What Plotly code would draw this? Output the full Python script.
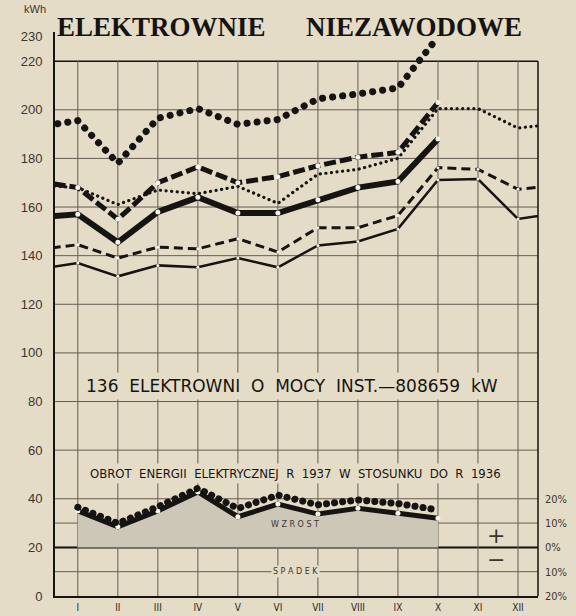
import plotly.graph_objects as go

# ---------------- data ----------------
months = ["I", "II", "III", "IV", "V", "VI", "VII", "VIII", "IX", "X", "XI", "XII"]
# position 0 = XII of the previous year (left edge), 13 = I of the next year (right edge)
periods = list(range(0, len(months) + 2))

# kWh values (first value = previous December)
big_dots = [193, 195.5, 178, 196.5, 200.5, 194, 196, 204.5, 206.5, 209, 230]
heavy_dash = [170.5, 168, 155, 170, 176.5, 170, 172.5, 177, 180.5, 182.5, 203]
small_dots = [169, 168, 161, 167, 165.5, 168.5, 161.5, 173.5, 175.5, 180, 200.5, 200.5, 192.5, 194.3]
thick_solid = [155.8, 157, 145.5, 158, 164, 157.5, 157.5, 163, 168, 170.5, 188]
dashed = [142.5, 144.5, 139, 143.5, 142.8, 147, 141.5, 151.5, 151.5, 156.5, 176.2, 175.5, 167.3, 169]
thin_solid = [134.5, 137, 131.5, 136, 135.2, 139, 135.2, 144.2, 145.8, 151, 171.1, 171.5, 155.1, 157.5]

# change 1937 vs 1936, percent (months I..X)
pct_dots = [16.5, 9.9, 16.7, 24.3, 16, 21.5, 17.5, 19.5, 18, 15.4]
pct_solid = [15, 8.5, 15, 22.8, 12.6, 17.8, 13.7, 16.1, 14, 12]

y_ticks = [0, 20, 40, 60, 80, 100, 120, 140, 160, 180, 200, 220, 230]
grid_main = [20, 40, 60, 80, 100, 120, 140, 160, 180, 200]
grid_low = [10, 30]
pct_ticks = [-20, -10, 0, 10, 20]
pct_labels = ["20%", "10%", "0%", "10%", "20%"]

# ---------------- style ----------------
PAPER = "#e4dcc6"
INK = "#161412"
GRID = "#665c52"
WHITE = "#f5f2e9"
FILL = "#cdc7b8"
Y_TOP = 232
BOX_TOP = 220
X0, X1 = 0.43, 12.5
PCT_OFFSET = 20  # 0 % drawn at 20 kWh

fig = go.Figure()


def add_line(vals, width, dash, markers=False, msize=5, yaxis="y", fill=None, fillcolor=None, xs=None):
    xs = xs if xs is not None else periods[:len(vals)]
    fig.add_trace(go.Scatter(
        x=xs, y=vals, yaxis=yaxis,
        mode="lines+markers" if markers else "lines",
        line=dict(color=INK, width=width, dash=dash),
        marker=dict(color=WHITE, size=msize, line=dict(width=0)),
        fill=fill, fillcolor=fillcolor,
        hoverinfo="skip", showlegend=False,
    ))


month_pos = periods[1:len(months) + 1]

# lower chart (percent, on y2)
add_line(pct_solid, 5, "solid", markers=True, msize=5, yaxis="y2",
         fill="tozeroy", fillcolor=FILL, xs=month_pos[:len(pct_solid)])
add_line(pct_dots, 7, "0.1px,8px", yaxis="y2", xs=month_pos[:len(pct_dots)])

# main chart
add_line(thin_solid, 2.5, "solid", markers=True, msize=3)
add_line(dashed, 3, "9px,5px", markers=True, msize=3)
add_line(thick_solid, 6, "solid", markers=True, msize=5)
add_line(small_dots, 3.2, "0.1px,5.5px")
add_line(heavy_dash, 5, "12px,4px", markers=True, msize=5)
add_line(big_dots, 7, "0.1px,10px")

# ---------------- grid (shapes) ----------------
shapes = []
for g in grid_main + grid_low:
    shapes.append(dict(type="line", xref="paper", yref="y", x0=0, x1=1, y0=g, y1=g,
                       line=dict(color=GRID, width=1), layer="below"))
# zero-percent line
shapes.append(dict(type="line", xref="paper", yref="y2", x0=0, x1=1, y0=0, y1=0,
                   line=dict(color=INK, width=2), layer="below"))
for m in month_pos:
    shapes.append(dict(type="line", xref="x", yref="y", x0=m, x1=m, y0=0, y1=BOX_TOP,
                       line=dict(color=GRID, width=1), layer="below"))
# box top and right border
shapes.append(dict(type="line", xref="paper", yref="y", x0=0, x1=1, y0=BOX_TOP, y1=BOX_TOP,
                   line=dict(color=INK, width=1.5), layer="below"))
shapes.append(dict(type="line", xref="paper", yref="y", x0=1, x1=1, y0=0, y1=BOX_TOP,
                   line=dict(color=INK, width=1.5), layer="below"))

# ---------------- annotations ----------------
ann = []
title_font = dict(family="Liberation Serif, Times New Roman, serif", size=27, color=INK)
ann.append(dict(text="<b>ELEKTROWNIE</b>", xref="paper", yref="paper", x=0.2215, y=1,
                xanchor="center", yshift=5, yanchor="middle", showarrow=False, font=title_font))
ann.append(dict(text="<b>NIEZAWODOWE</b>", xref="paper", yref="paper", x=0.743, y=1,
                xanchor="center", yshift=5, yanchor="middle", showarrow=False, font=title_font))
ann.append(dict(text="kWh", xref="paper", yref="paper", x=-0.042, y=1, yshift=23,
                xanchor="center", yanchor="middle", showarrow=False,
                font=dict(family="Liberation Sans, Arial", size=11, color="#3b3630")))
ann.append(dict(text="136  ELEKTROWNI  O  MOCY  INST.—808659  kW", xref="x", yref="y",
                x=6.36, y=86.5, xanchor="center", showarrow=False, bgcolor=PAPER, borderpad=3,
                font=dict(family="DejaVu Sans, Arial", size=17, color=INK)))
ann.append(dict(text="OBROT  ENERGII  ELEKTRYCZNEJ  R  1937  W  STOSUNKU  DO  R  1936",
                xref="x", yref="y", x=6.43, y=50.3, xanchor="center", showarrow=False,
                bgcolor=PAPER, borderpad=2,
                font=dict(family="DejaVu Sans Condensed, DejaVu Sans, Arial", size=13, color=INK)))
ann.append(dict(text="W Z R O S T", xref="x", yref="y2", x=6.43, y=9.3, xanchor="center",
                showarrow=False, bgcolor=FILL, borderpad=0,
                font=dict(family="DejaVu Sans, Arial", size=8, color="#3b3630")))
ann.append(dict(text="S P A D E K", xref="x", yref="y2", x=6.45, y=-10, xanchor="center",
                showarrow=False, bgcolor=PAPER, borderpad=1,
                font=dict(family="DejaVu Sans, Arial", size=8, color="#3b3630")))
ann.append(dict(text="+", xref="x", yref="y2", x=11.45, y=5, xanchor="center", showarrow=False,
                font=dict(family="DejaVu Sans, Arial", size=22, color="#3b3630")))
ann.append(dict(text="−", xref="x", yref="y2", x=11.45, y=-5, xanchor="center", showarrow=False,
                font=dict(family="DejaVu Sans, Arial", size=22, color="#3b3630")))

tick_font = dict(family="Liberation Sans, Arial", size=13, color="#3b3630")

fig.update_layout(
    width=576, height=616,
    margin=dict(l=55, r=38, t=32, b=20),
    paper_bgcolor=PAPER, plot_bgcolor=PAPER,
    shapes=shapes, annotations=ann,
    xaxis=dict(range=[X0, X1], tickvals=month_pos, ticktext=months, showgrid=False,
               zeroline=False, showline=True, linecolor=INK, linewidth=2, ticks="",
               ticklabelstandoff=1, automargin=False,
               tickfont=dict(family="DejaVu Sans Condensed, DejaVu Sans, Arial", size=10, color="#2b2723")),
    yaxis=dict(range=[0, Y_TOP], tickvals=y_ticks, showgrid=False, zeroline=False,
               showline=True, linecolor=INK, linewidth=2, ticks="", ticklabelstandoff=8,
               automargin=False, tickfont=tick_font),
    yaxis2=dict(range=[-PCT_OFFSET, Y_TOP - PCT_OFFSET], overlaying="y", side="right",
                tickvals=pct_ticks, ticktext=pct_labels, showgrid=False, zeroline=False,
                showline=False, ticks="", ticklabelstandoff=6, automargin=False,
                tickfont=dict(family="DejaVu Sans Condensed, DejaVu Sans, Arial", size=11, color="#3b3630")),
)

post = """
document.body.style.margin='0';
var gd = document.getElementById('{plot_id}');
function roundDots(){
  gd.querySelectorAll('path.js-line').forEach(function(p){
    var d = p.style.strokeDasharray || '';
    if (d.indexOf('0.1') === 0) { p.style.strokeLinecap = 'round'; }
  });
}
roundDots();
if (gd.on) { gd.on('plotly_afterplot', roundDots); }
"""

fig.write_html("out.html", post_script=post, config={"displayModeBar": False})
